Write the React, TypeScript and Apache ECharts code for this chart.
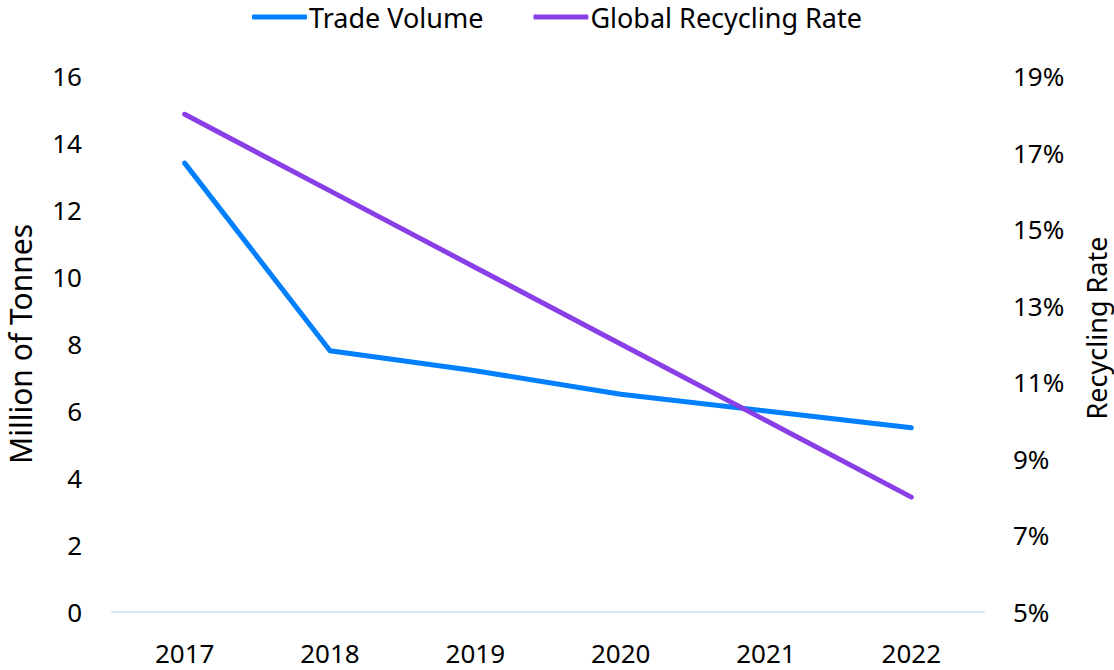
import React, { useEffect, useRef } from "react";
import * as echarts from "echarts";

const years = ["2017", "2018", "2019", "2020", "2021", "2022"];
const tradeVolume = [13.4, 7.8, 7.2, 6.5, 6.0, 5.5];
const recyclingRate = [18, 16, 14, 12, 10, 8];

const FONT = "'Noto Sans', sans-serif";

export default function App() {
  const ref = useRef<HTMLDivElement>(null);
  useEffect(() => {
    if (!ref.current) return;
    const chart = echarts.init(ref.current, undefined, { renderer: "svg" });
    chart.setOption({
      animation: false,
      backgroundColor: "#ffffff",
      textStyle: { fontFamily: FONT, color: "#000" },
      legend: {
        left: 252,
        top: 3,
        padding: 0,
        itemWidth: 55,
        itemHeight: 5,
        itemGap: 50,
        icon: "roundRect",
        textStyle: {
          fontSize: 27,
          lineHeight: 28,
          color: "#000",
          fontFamily: FONT,
          padding: [0, 0, 0, -3],
        },
        data: ["Trade Volume", "Global Recycling Rate"],
      },
      grid: { left: 112, right: 130, top: 76, bottom: 58, outerBoundsMode: "none", containLabel: false },
      graphic: [
        {
          type: "text",
          x: 1096,
          y: 328,
          rotation: Math.PI / 2,
          style: {
            text: "Recycling Rate",
            fontSize: 27,
            fontFamily: FONT,
            fill: "#000",
            align: "center",
            verticalAlign: "middle",
          },
        },
      ],
      xAxis: {
        type: "category",
        data: years,
        boundaryGap: true,
        axisLine: { show: true, lineStyle: { color: "#d6e7f8", width: 2 } },
        axisTick: { show: false },
        axisLabel: { fontSize: 26, color: "#000", margin: 28, fontFamily: FONT },
      },
      yAxis: [
        {
          type: "value",
          min: 0,
          max: 16,
          interval: 2,
          name: "Million of Tonnes",
          nameLocation: "middle",
          nameGap: 77,
          nameRotate: 90,
          nameTextStyle: { fontSize: 30, color: "#000", fontFamily: FONT },
          axisLine: { show: false },
          axisTick: { show: false },
          splitLine: { show: false },
          axisLabel: { fontSize: 26, color: "#000", margin: 30, fontFamily: FONT },
        },
        {
          type: "value",
          min: 5,
          max: 19,
          interval: 2,
          position: "right",
          axisLine: { show: false },
          axisTick: { show: false },
          splitLine: { show: false },
          axisLabel: {
            fontSize: 26,
            color: "#000",
            margin: 29,
            fontFamily: FONT,
            formatter: "{value}%",
          },
        },
      ],
      series: [
        {
          name: "Trade Volume",
          type: "line",
          yAxisIndex: 0,
          data: tradeVolume,
          showSymbol: false,
          symbol: "none",
          itemStyle: { color: "#0080ff" },
          lineStyle: { color: "#0080ff", width: 5, cap: "round", join: "round" },
        },
        {
          name: "Global Recycling Rate",
          type: "line",
          yAxisIndex: 1,
          data: recyclingRate,
          showSymbol: false,
          symbol: "none",
          itemStyle: { color: "#8a3ee6" },
          lineStyle: { color: "#8a3ee6", width: 5, cap: "round", join: "round" },
        },
      ],
    });
    return () => chart.dispose();
  }, []);
  return (
    <div
      ref={ref}
      style={{ position: "fixed", left: 0, top: 0, width: 1114, height: 670, background: "#fff" }}
    />
  );
}
